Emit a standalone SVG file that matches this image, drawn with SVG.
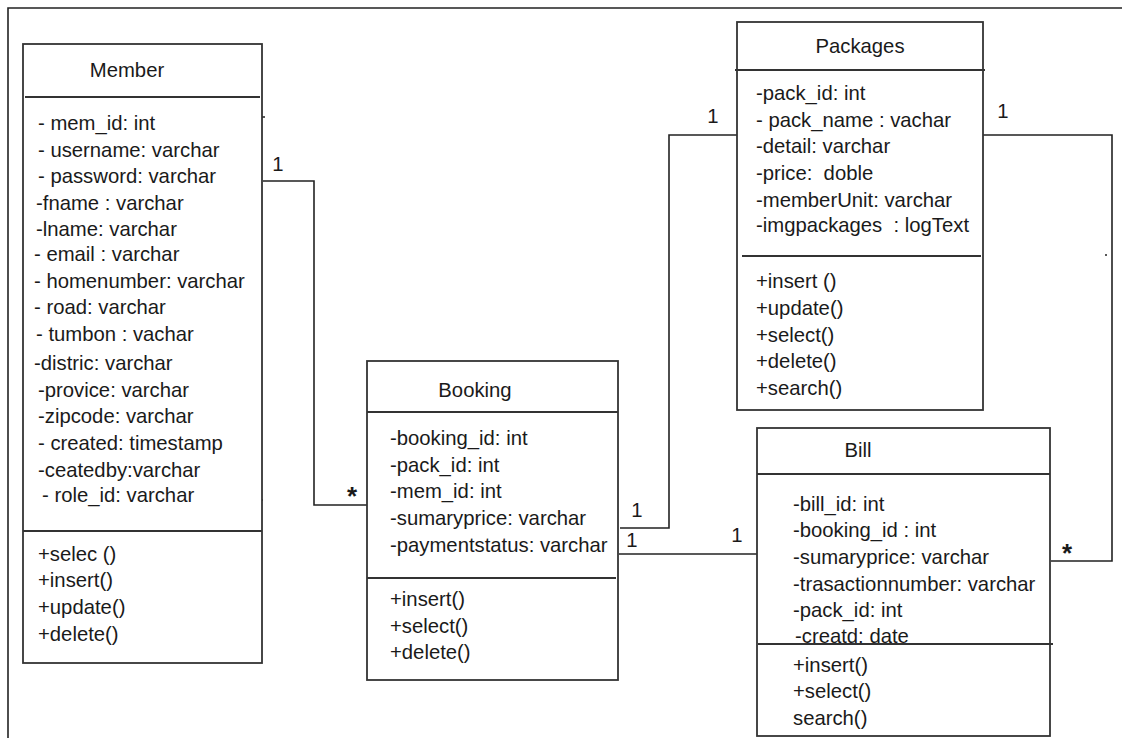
<svg xmlns="http://www.w3.org/2000/svg" width="1122" height="738" viewBox="0 0 1122 738">
<style>
.box{fill:#fff;stroke:#333;stroke-width:1.8}
.div{stroke:#333;stroke-width:1.8;fill:none}
.con{stroke:#222;stroke-width:1.6;fill:none}
text{font-family:"Liberation Sans",Arial,sans-serif;font-size:20.3px;fill:#1a1a1a}
.t{text-anchor:middle}
.star{font-weight:bold;font-size:26px}
</style>
<rect width="1122" height="738" fill="#fff"/>
<g id="frame">
<path class="con" d="M8,738 V8 H1122"/>
</g>
<g id="connectors">
<path class="con" d="M263,181 H314 V505 H367"/>
<path class="con" d="M620,528 H669 V135 H738"/>
<path class="con" d="M619,554 H757"/>
<path class="con" d="M983,135 H1112 V561 H1051"/>
<path class="con" d="M262,117 H265 M261,500 H263 M1105,255 H1107"/>
<text x="278" y="171" class="t">1</text>
<text x="352" y="505" class="t star">*</text>
<text x="637" y="517" class="t">1</text>
<text x="632" y="547" class="t">1</text>
<text x="737" y="542" class="t">1</text>
<text x="713" y="123" class="t">1</text>
<text x="1003" y="118" class="t">1</text>
<text x="1067" y="562" class="t star">*</text>
</g>
<g id="member">
<rect class="box" x="23" y="44" width="239" height="619"/>
<path class="div" d="M25,97 H260 M23,531 H262"/>
<text x="127" y="77" class="t">Member</text>
<text x="38" y="130">- mem_id: int</text>
<text x="38" y="157">- username: varchar</text>
<text x="38" y="183">- password: varchar</text>
<text x="36" y="210">-fname : varchar</text>
<text x="36" y="236">-lname: varchar</text>
<text x="34" y="261">- email : varchar</text>
<text x="34" y="288">- homenumber: varchar</text>
<text x="34" y="314">- road: varchar</text>
<text x="36" y="341">- tumbon : vachar</text>
<text x="34" y="370">-distric: varchar</text>
<text x="38" y="397">-provice: varchar</text>
<text x="38" y="423">-zipcode: varchar</text>
<text x="38" y="450">- created: timestamp</text>
<text x="38" y="477">-ceatedby:varchar</text>
<text x="42" y="502">- role_id: varchar</text>
<text x="38" y="561">+selec ()</text>
<text x="38" y="587">+insert()</text>
<text x="38" y="614">+update()</text>
<text x="38" y="641">+delete()</text>
</g>
<g id="packages">
<rect class="box" x="737" y="22" width="246" height="388"/>
<path class="div" d="M735,70 H985 M742,256 H981"/>
<text x="860" y="53" class="t">Packages</text>
<text x="756" y="100">-pack_id: int</text>
<text x="756" y="127">- pack_name : vachar</text>
<text x="756" y="153">-detail: varchar</text>
<text x="756" y="180" xml:space="preserve">-price:  doble</text>
<text x="756" y="207">-memberUnit: varchar</text>
<text x="756" y="232" xml:space="preserve">-imgpackages  : logText</text>
<text x="756" y="288">+insert ()</text>
<text x="756" y="315">+update()</text>
<text x="756" y="342">+select()</text>
<text x="756" y="368">+delete()</text>
<text x="756" y="395">+search()</text>
</g>
<g id="booking">
<rect class="box" x="367" y="361" width="251" height="319"/>
<path class="div" d="M367,412 H618 M367,578 H616"/>
<text x="475" y="397" class="t">Booking</text>
<text x="390" y="445">-booking_id: int</text>
<text x="390" y="472">-pack_id: int</text>
<text x="390" y="498">-mem_id: int</text>
<text x="390" y="525">-sumaryprice: varchar</text>
<text x="390" y="552">-paymentstatus: varchar</text>
<text x="390" y="606">+insert()</text>
<text x="390" y="633">+select()</text>
<text x="390" y="659">+delete()</text>
</g>
<g id="bill">
<rect class="box" x="757" y="428" width="293" height="308"/>
<path class="div" d="M757,474 H1050 M758,644 H1053"/>
<text x="858" y="457" class="t">Bill</text>
<text x="793" y="511">-bill_id: int</text>
<text x="793" y="537">-booking_id : int</text>
<text x="793" y="564">-sumaryprice: varchar</text>
<text x="793" y="591">-trasactionnumber: varchar</text>
<text x="793" y="617">-pack_id: int</text>
<text x="795" y="643">-creatd: date</text>
<text x="793" y="672">+insert()</text>
<text x="793" y="698">+select()</text>
<text x="793" y="725">search()</text>
</g>
</svg>
